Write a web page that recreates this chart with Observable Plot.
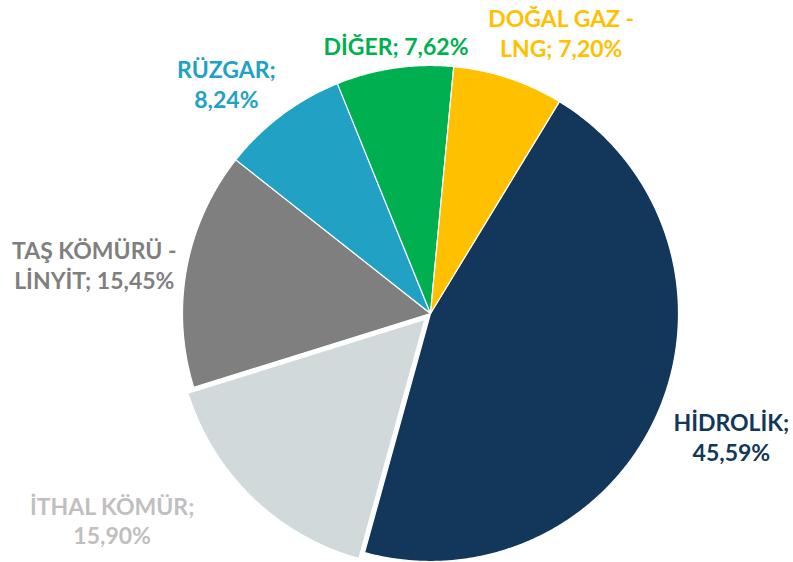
<!DOCTYPE html>
<html>
<head>
<meta charset="utf-8">
<script src="https://cdn.jsdelivr.net/npm/d3@7"></script>
<script src="https://cdn.jsdelivr.net/npm/@observablehq/plot@0.6"></script>
<style>
  html, body { margin: 0; padding: 0; background: #fff; }
  #chart svg { display: block; }
</style>
</head>
<body>
<div id="chart"></div>
<script>
// ---- data ----
const sources = ["HİDROLİK", "İTHAL KÖMÜR", "TAŞ KÖMÜRÜ - LİNYİT", "RÜZGAR", "DİĞER", "DOĞAL GAZ - LNG"];
const shares = [45.59, 15.90, 15.45, 8.24, 7.62, 7.20];
const labelLines = [
  "HİDROLİK;\n45,59%",
  "İTHAL KÖMÜR;\n15,90%",
  "TAŞ KÖMÜRÜ -\nLİNYİT; 15,45%",
  "RÜZGAR;\n8,24%",
  "DİĞER; 7,62%",
  "DOĞAL GAZ -\nLNG; 7,20%"
];

// ---- styles / layout ----
const sliceColors = ["#12375A", "#D1D9DB", "#7F7F7F", "#21A1C4", "#00B050", "#FFC000"];
const labelColors = ["#12375A", "#BFBFBF", "#7F7F7F", "#21A1C4", "#00B050", "#FFC000"];
const exploded = [0, 0.033, 0, 0, 0, 0];           // radial offset (in radius units)
const labelRadius = [1.31, 1.53, 1.37, 1.24, 1.09, 1.25];
const labelTurn = [-1.2, 13, -2.2, -4.7, 1, 6.6];   // degrees
const firstAngle = 31.3;                           // degrees clockwise from 12 o'clock

const W = 793, H = 562, R = 248, CX = 430, CY = 313;

// ---- build slices ----
const total = d3.sum(shares);
const rad = d => d * Math.PI / 180;
let acc = firstAngle;
const polys = [];
const labels = [];
sources.forEach((name, i) => {
  const sweep = shares[i] / total * 360;
  const a0 = acc, a1 = acc + sweep;
  acc = a1;
  const mid = (a0 + a1) / 2;
  const ox = exploded[i] * Math.sin(rad(mid));
  const oy = exploded[i] * Math.cos(rad(mid));
  polys.push({name, x: ox, y: oy});
  const steps = Math.max(2, Math.ceil(sweep * 2));
  for (let k = 0; k <= steps; k++) {
    const a = a0 + (a1 - a0) * k / steps;
    polys.push({name, x: ox + Math.sin(rad(a)), y: oy + Math.cos(rad(a))});
  }
  const la = mid + labelTurn[i];
  labels.push({
    name,
    text: labelLines[i],
    color: labelColors[i],
    x: labelRadius[i] * Math.sin(rad(la)),
    y: labelRadius[i] * Math.cos(rad(la))
  });
});

const chart = Plot.plot({
  width: W,
  height: H,
  margin: 0,
  x: {axis: null, domain: [-CX / R, (W - CX) / R]},
  y: {axis: null, domain: [-(H - CY) / R, CY / R]},
  color: {domain: sources, range: sliceColors},
  style: {background: "#fff"},
  marks: [
    Plot.line(polys, {
      x: "x", y: "y", z: "name", fill: "name",
      stroke: "white", strokeWidth: 1.2, curve: "linear-closed"
    }),
    Plot.text(labels, {
      x: "x", y: "y", text: "text", fill: "color",
      fontSize: 23, fontWeight: "bold", fontFamily: "Lato, 'Open Sans', sans-serif",
      lineHeight: 1.3, lineAnchor: "middle", textAnchor: "middle"
    })
  ]
});
document.getElementById("chart").appendChild(chart);
</script>
</body>
</html>
